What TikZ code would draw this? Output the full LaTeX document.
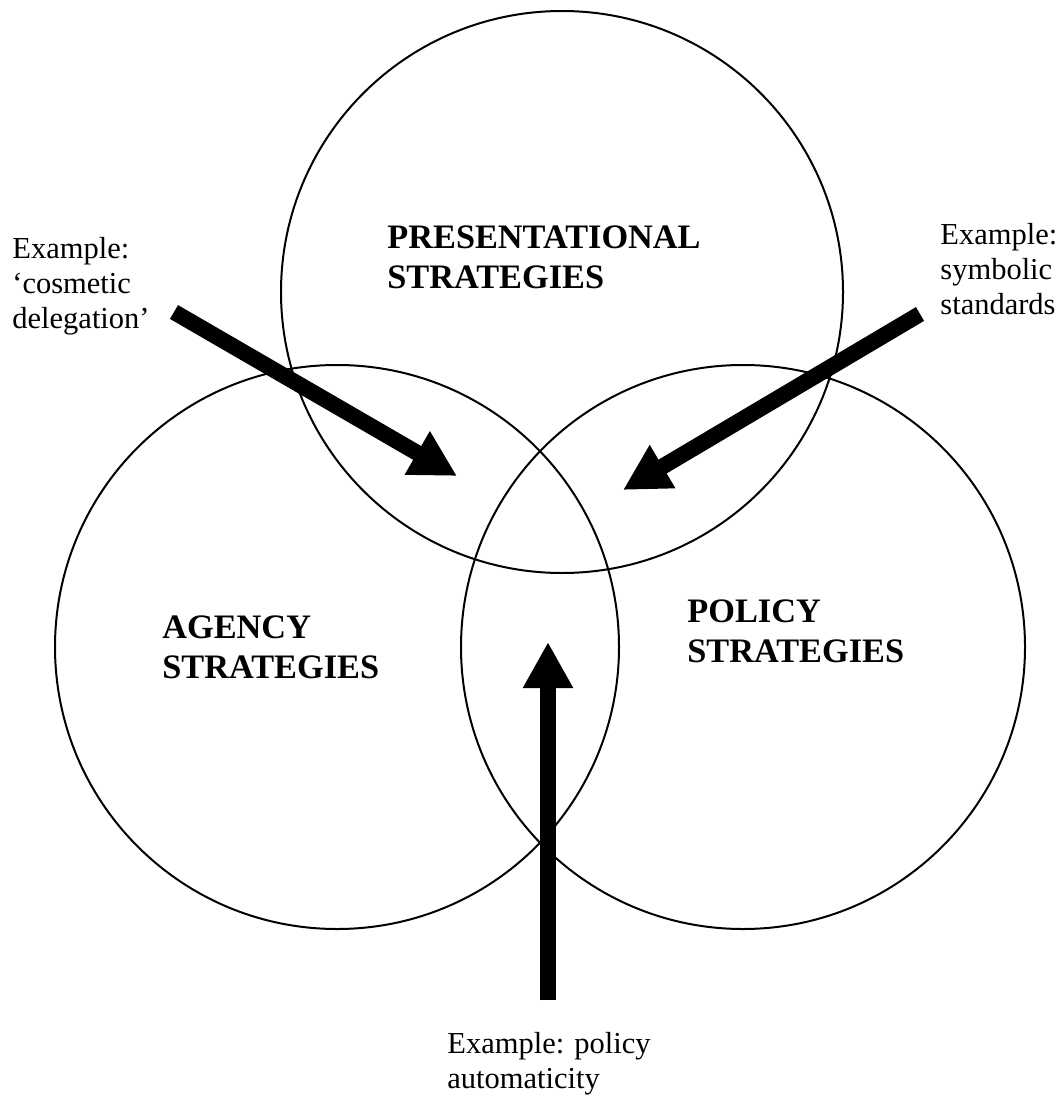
\documentclass[tikz,border=0pt]{standalone}
\usepackage{fontspec}
\setmainfont{Liberation Serif}
\usetikzlibrary{arrows.meta}

\begin{document}
\begin{tikzpicture}[x=0.5pt, y=-0.5pt,
    set/.style={circle, draw, line width=1pt, inner sep=0pt},
    setname/.style={anchor=base west, align=left, inner sep=0pt,
                    font=\fontsize{17.15}{20}\selectfont\bfseries},
    note/.style={anchor=base west, align=left, inner sep=0pt,
                 font=\fontsize{15.25}{17.35}\selectfont},
    fat/.style={line width=8pt, -{Triangle[length=23pt, width=23.5pt]}}
]
\useasboundingbox (0,0) rectangle (1062,1097);

% the three overlapping sets
\node[set, minimum size=281pt] (pres) at (562,292) {};
\node[set, minimum size=282pt] (agency) at (337,647) {};
\node[set, minimum size=282pt] (policy) at (743,647) {};

% base of a multi-line node = baseline of its last line
\node[setname] (presname) at (387,288) {PRESENTATIONAL\\STRATEGIES};
\node[setname] (agencyname) at (162,678) {AGENCY\\STRATEGIES};
\node[setname] (policyname) at (687,662) {POLICY\\STRATEGIES};

% examples and where they point
\node[note] (cosmetic) at (12,328) {Example:\\‘cosmetic\\delegation’};
\node[note] (symbolic) at (940,314) {Example:\\symbolic\\standards};
\node[note] (automatic) at (447,1088) {Example: policy\\automaticity};

\coordinate (cosmetic tail) at (174,312);
\coordinate (cosmetic tip) at (457,476);
\coordinate (symbolic tail) at (920,314);
\coordinate (symbolic tip) at (623,490);
\coordinate (automatic tail) at (548,1000);
\coordinate (automatic tip) at (548,642);

\draw[fat] (cosmetic tail) -- (cosmetic tip);
\draw[fat] (symbolic tail) -- (symbolic tip);
\draw[fat] (automatic tail) -- (automatic tip);
\end{tikzpicture}
\end{document}
